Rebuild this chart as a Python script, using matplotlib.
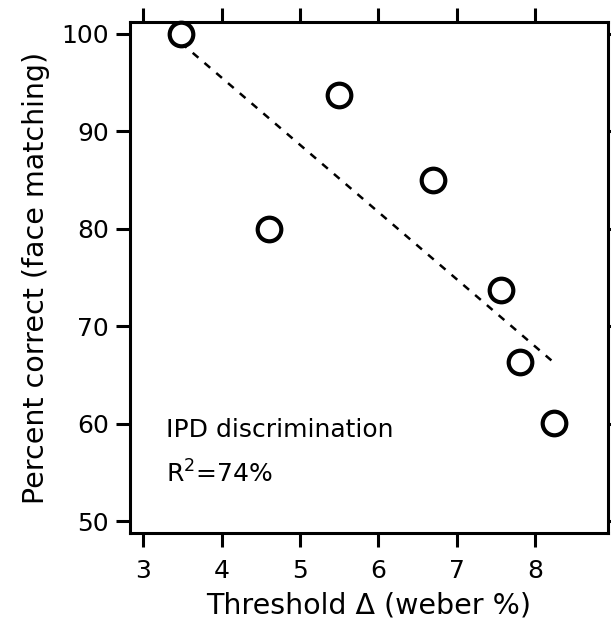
import numpy as np
import matplotlib.pyplot as plt

plt.rcParams['font.family'] = ['DejaVu Sans']

# threshold (weber %) vs. face matching accuracy
threshold = np.array([3.48, 4.61, 5.50, 6.70, 7.57, 7.81, 8.24])
pct_correct = np.array([100.0, 80.0, 93.7, 85.0, 73.7, 66.3, 60.1])
x_ticks = [3, 4, 5, 6, 7, 8]
y_ticks = [50, 60, 70, 80, 90, 100]

fig = plt.figure(figsize=(6.11, 6.26), dpi=100)
ax = fig.add_axes([0.2128, 0.1486, 0.995 - 0.2128, 0.9649 - 0.1486])

# least-squares fit line
slope, icpt = np.polyfit(threshold, pct_correct, 1)
xs = np.array([threshold.min(), threshold.max()])
ax.plot(xs, slope * xs + icpt, color='black', lw=1.8, ls=(0, (3, 3.2)), zorder=2)

ax.plot(threshold, pct_correct, 'o', ms=17, mfc='white', mec='black',
        mew=3.0, zorder=3, clip_on=False)

ax.text(3.29, 58.6, 'IPD discrimination', fontsize=18, ha='left', va='baseline')
ax.text(3.29, 54.0, r'R$^2$=74%', fontsize=18, ha='left', va='baseline')

ax.set_xlim(2.83, 8.93)
ax.set_ylim(48.8, 101.2)
ax.set_xticks(x_ticks)
ax.set_yticks(y_ticks)
ax.tick_params(direction='out', length=10, width=2.2, labelsize=18,
               top=True, right=True)
ax.tick_params(axis='x', pad=9)
ax.tick_params(axis='y', pad=5)
for sp in ax.spines.values():
    sp.set_linewidth(2.2)

ax.set_xlabel('Threshold Δ (weber %)', fontsize=20.5, labelpad=6)
ax.set_ylabel('Percent correct (face matching)', fontsize=20.5, labelpad=8)

fig.savefig('out.png', dpi=100)
